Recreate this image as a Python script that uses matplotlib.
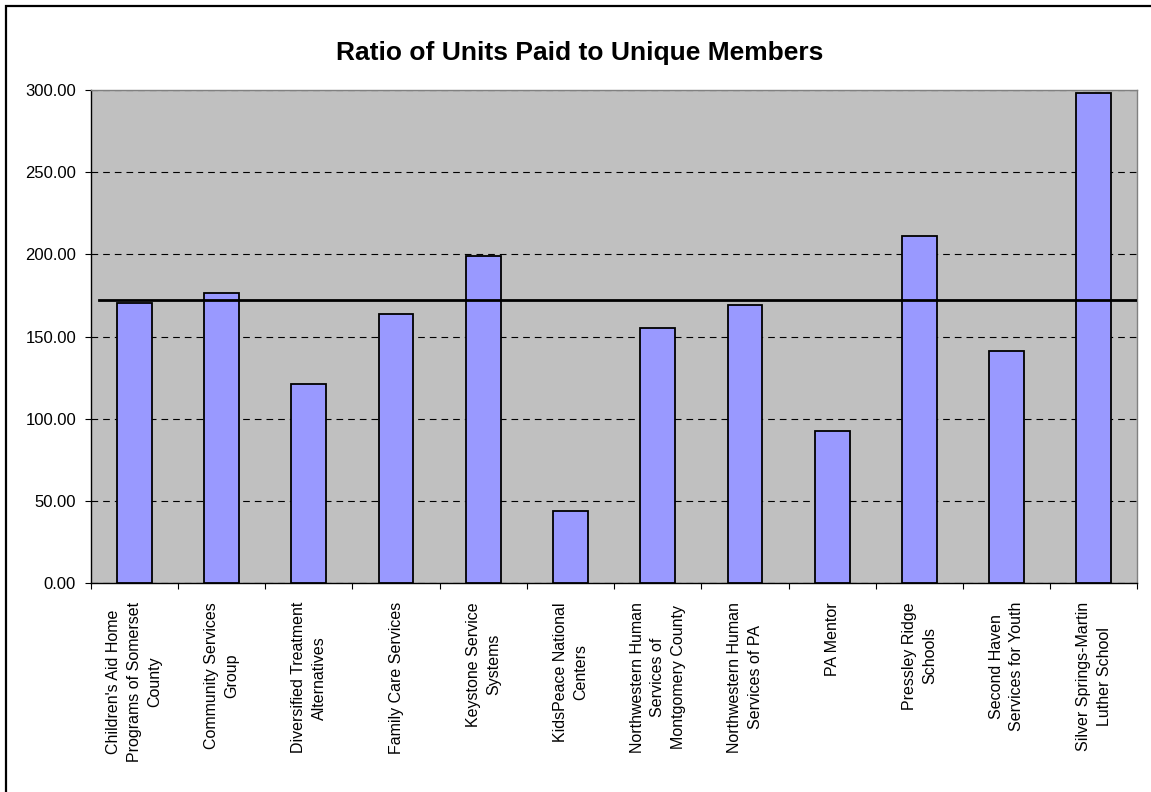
import matplotlib.pyplot as plt
from matplotlib.patches import Rectangle

# data
providers = [
    "Children's Aid Home\nPrograms of Somerset\nCounty",
    "Community Services\nGroup",
    "Diversified Treatment\nAlternatives",
    "Family Care Services",
    "Keystone Service\nSystems",
    "KidsPeace National\nCenters",
    "Northwestern Human\nServices of\nMontgomery County",
    "Northwestern Human\nServices of PA",
    "PA Mentor",
    "Pressley Ridge\nSchools",
    "Second Haven\nServices for Youth",
    "Silver Springs-Martin\nLuther School",
]
ratio = [170.7, 176.8, 121.0, 163.6, 199.3, 44.0, 155.5, 169.5, 92.8, 211.4, 141.5, 298.2]
benchmark = 172.5
y_ticks = [0, 50, 100, 150, 200, 250, 300]

plt.rcParams["font.family"] = ["Liberation Sans", "DejaVu Sans"]

fig = plt.figure(figsize=(11.51, 7.92), dpi=100)
W, H = 1151, 792
ax = fig.add_axes([90.7 / W, 1 - 583.3 / H, (1137.5 - 90.7) / W, (583.3 - 90) / H])

# outer chart frame (only left/top visible in the reference)
fig.patches.append(Rectangle((5.5 / W, -0.1), 1.2, 1 - 5.5 / H + 0.1,
                             transform=fig.transFigure, fill=False,
                             edgecolor="black", linewidth=1.6))

ax.set_facecolor("#c0c0c0")
x = list(range(len(ratio)))
ax.bar(x, ratio, width=0.4, color="#9999ff", edgecolor="black", linewidth=1.3, zorder=3)

# benchmark line
ax.plot([-0.405, len(ratio) - 0.5], [benchmark, benchmark], color="black", lw=2, zorder=4)

ax.set_xlim(-0.5, len(ratio) - 0.5)
ax.set_ylim(0, 300)
ax.set_yticks(y_ticks)
ax.set_yticklabels([f"{v:.2f}" for v in y_ticks], fontsize=12)
ax.yaxis.grid(True, color="black", linestyle=(0, (6, 4.5)), linewidth=0.8, zorder=1)
ax.set_axisbelow(True)

# boundaries get the tick marks, centres get the labels
ax.set_xticks([i - 0.5 for i in range(len(ratio) + 1)])
ax.set_xticklabels([])
ax.set_xticks(x, providers, minor=True, rotation=90, fontsize=11.5,
              va="top", ha="center", multialignment="center", linespacing=1.45)
ax.tick_params(axis="x", which="major", length=4, width=0.8, direction="out")
ax.tick_params(axis="x", which="minor", length=0, pad=13.5)
ax.tick_params(axis="y", length=4.5, width=0.8, pad=6)

for s in ["left", "bottom"]:
    ax.spines[s].set_color("black")
    ax.spines[s].set_linewidth(1.0)
for s in ["top", "right"]:
    ax.spines[s].set_color("#808080")
    ax.spines[s].set_linewidth(1.0)

fig.text(580 / W, 1 - 53 / H, "Ratio of Units Paid to Unique Members",
         ha="center", va="center", fontsize=19, fontweight="bold")

fig.savefig("out.png", dpi=100)
